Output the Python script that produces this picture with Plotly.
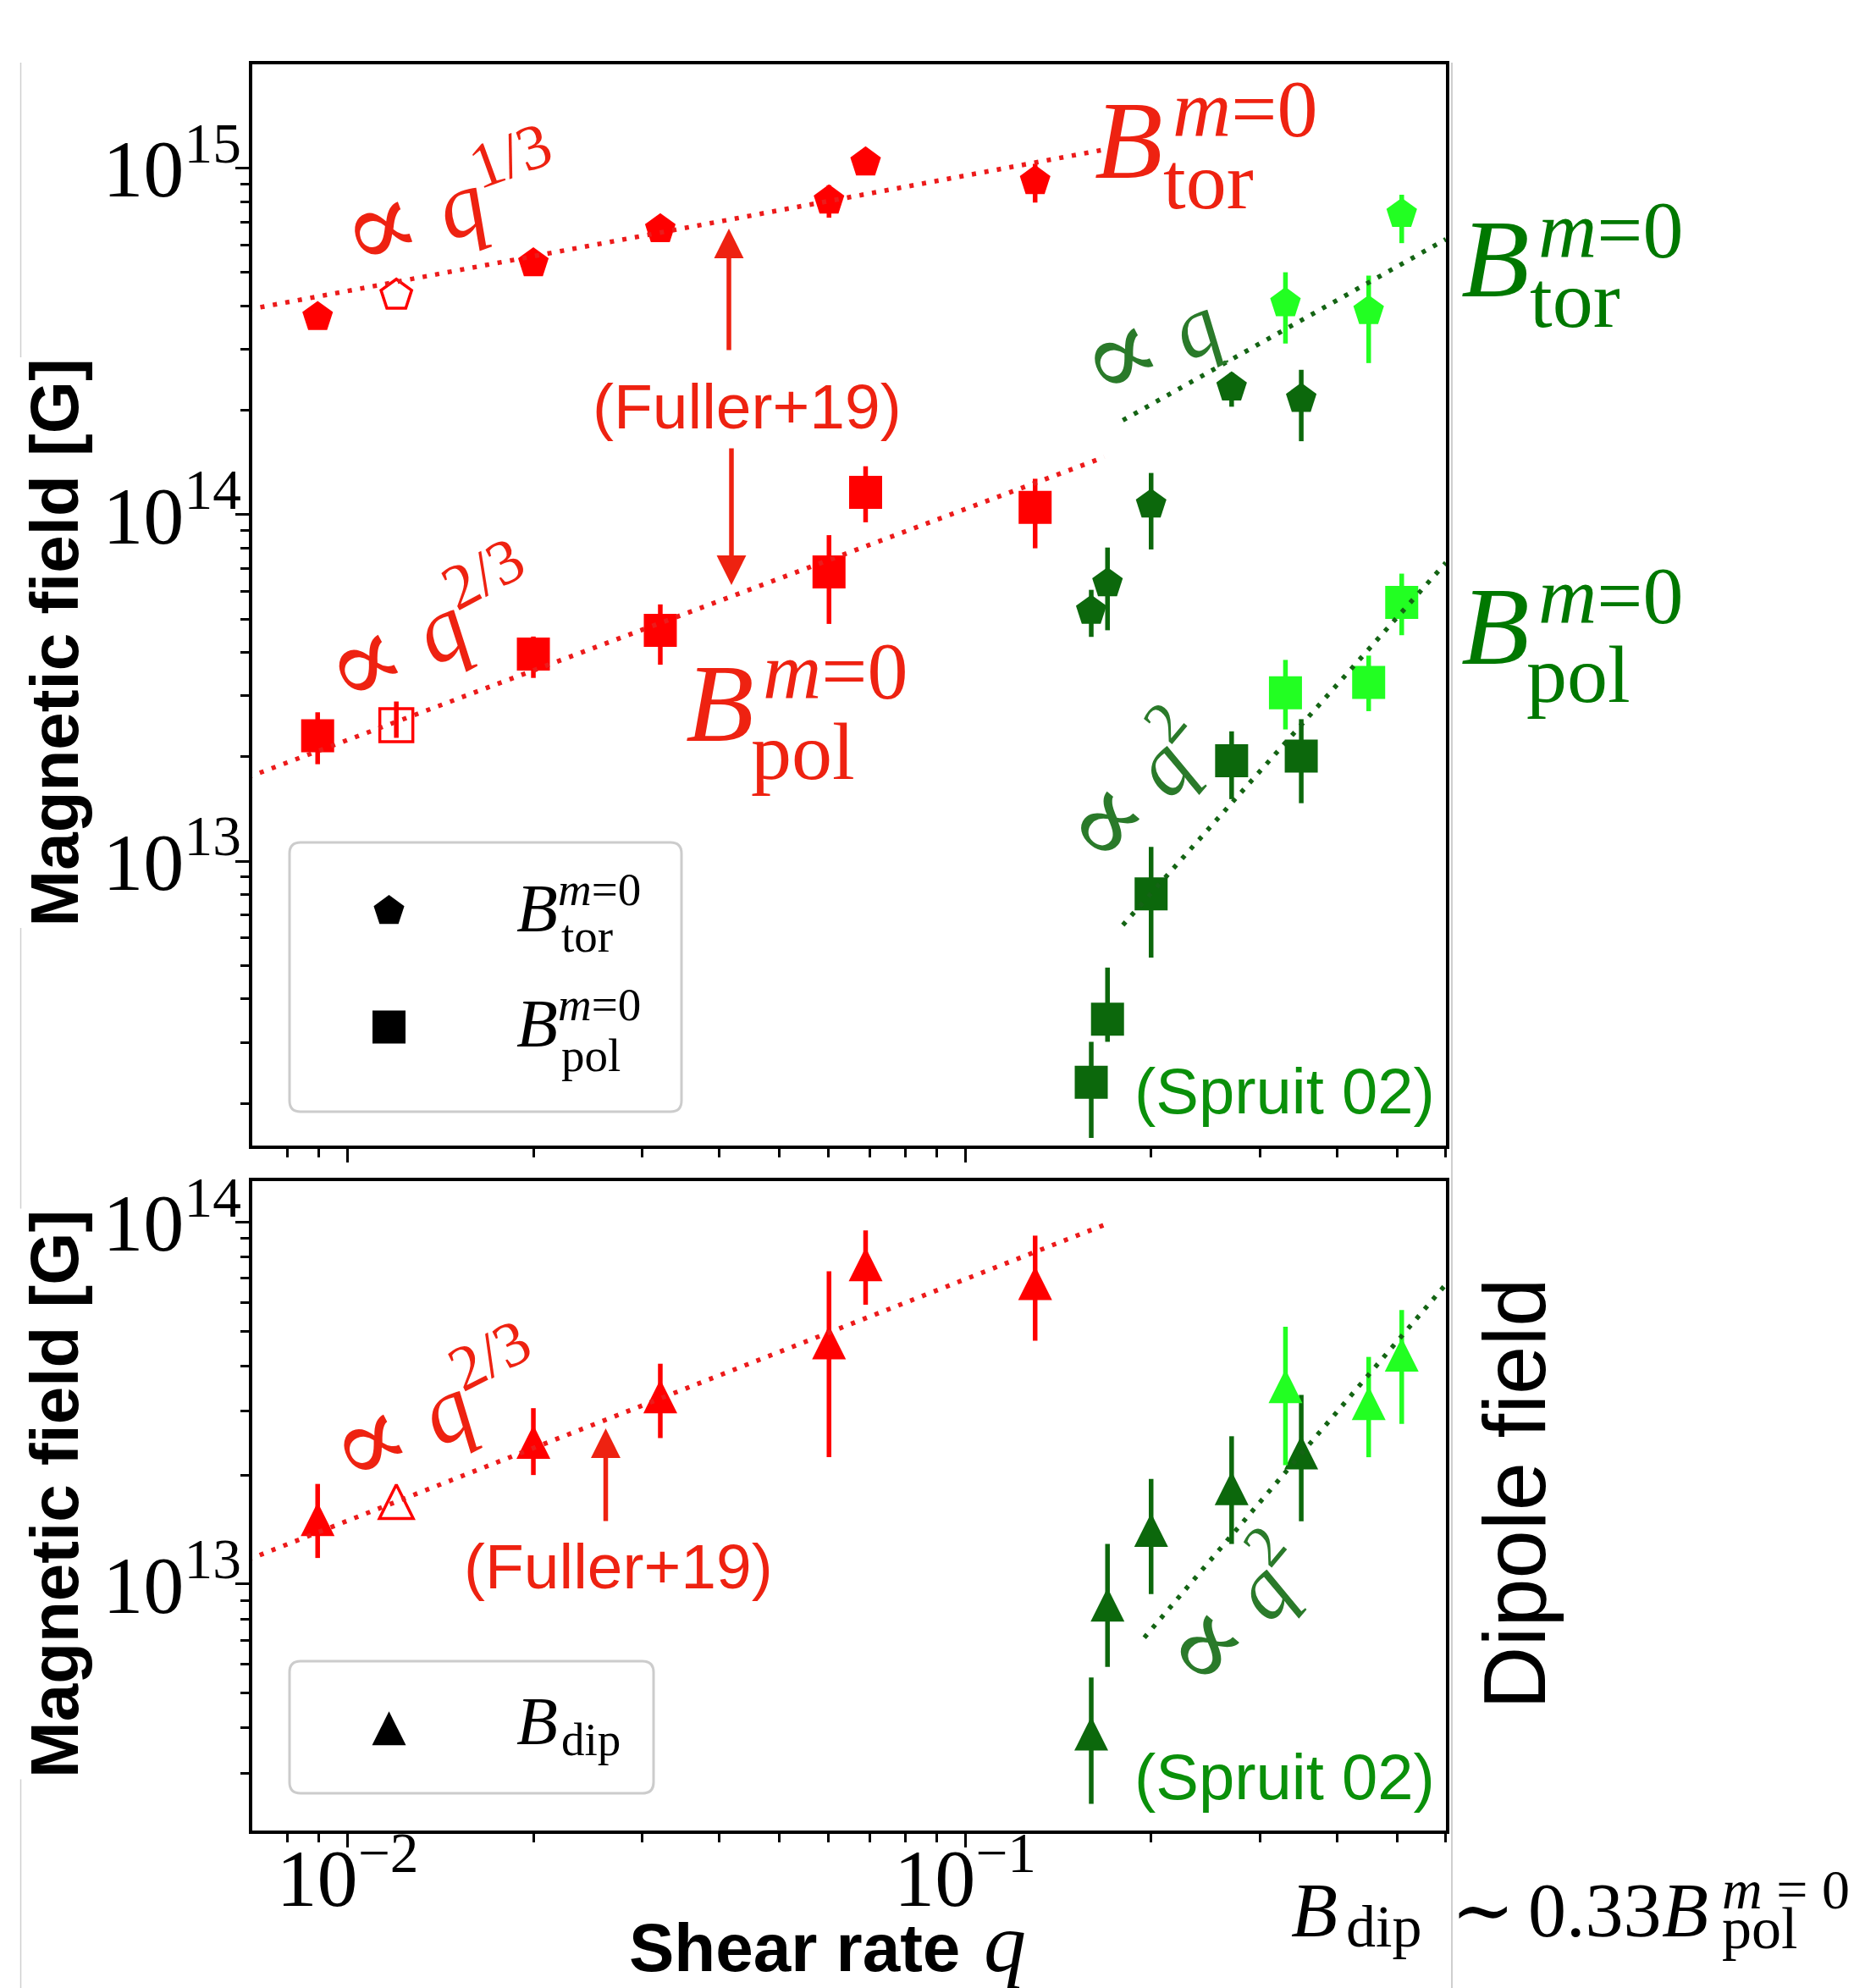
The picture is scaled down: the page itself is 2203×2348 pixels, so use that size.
import plotly.graph_objects as go

# ---------------- data ----------------
# shear rate q of each run
q_fuller = [0.00895, 0.0120, 0.0200, 0.0321, 0.0602, 0.0690, 0.1298]
hollow_fuller = [False, True, False, False, False, False, False]
q_spruit_dark = [0.160, 0.170, 0.200, 0.270, 0.350]
q_spruit_light = [0.330, 0.450, 0.509]

# toroidal field B_tor^{m=0} [G] (value, upper, lower)
btor_fuller = [3.72e14, 4.30e14, 5.32e14, 6.67e14, 8.07e14, 1.04e15, 9.19e14]
btor_fuller_hi = [3.72e14, 4.30e14, 5.32e14, 6.67e14, 8.93e14, 1.04e15, 1.03e15]
btor_fuller_lo = [3.72e14, 4.30e14, 5.32e14, 6.67e14, 7.20e14, 1.04e15, 7.96e14]
btor_dark = [5.28e13, 6.34e13, 1.07e14, 2.33e14, 2.16e14]
btor_dark_hi = [6.07e13, 8.04e13, 1.32e14, 2.57e14, 2.62e14]
btor_dark_lo = [4.44e13, 4.64e13, 7.94e13, 2.05e14, 1.63e14]
btor_light = [4.08e14, 3.87e14, 7.38e14]
btor_light_hi = [5.01e14, 4.90e14, 8.39e14]
btor_light_lo = [3.12e14, 2.74e14, 6.08e14]

# poloidal field B_pol^{m=0} [G]
bpol_fuller = [2.30e13, 2.47e13, 3.96e13, 4.64e13, 6.84e13, 1.16e14, 1.05e14]
bpol_fuller_hi = [2.69e13, 2.89e13, 4.45e13, 5.51e13, 8.73e13, 1.38e14, 1.27e14]
bpol_fuller_lo = [1.905e13, 2.27e13, 3.38e13, 3.69e13, 4.84e13, 9.51e13, 8.00e13]
bpol_dark = [2.30e12, 3.50e12, 8.05e12, 1.95e13, 2.01e13]
bpol_dark_hi = [3.01e12, 4.93e12, 1.10e13, 2.37e13, 2.57e13]
bpol_dark_lo = [1.59e12, 3.01e12, 5.27e12, 1.51e13, 1.47e13]
bpol_light = [3.06e13, 3.28e13, 5.58e13]
bpol_light_hi = [3.81e13, 3.92e13, 6.76e13]
bpol_light_lo = [2.40e13, 2.71e13, 4.49e13]

# dipole field B_dip [G]
bdip_fuller = [1.51e13, 1.69e13, 2.47e13, 3.30e13, 4.65e13, 7.64e13, 6.78e13]
bdip_fuller_hi = [1.89e13, 1.69e13, 3.06e13, 4.06e13, 7.31e13, 9.48e13, 9.17e13]
bdip_fuller_lo = [1.18e13, 1.69e13, 2.00e13, 2.53e13, 2.24e13, 5.91e13, 4.70e13]
bdip_dark = [3.86e12, 8.77e12, 1.41e13, 1.84e13, 2.31e13]
bdip_dark_hi = [5.52e12, 1.29e13, 1.95e13, 2.56e13, 3.33e13]
bdip_dark_lo = [2.47e12, 5.90e12, 9.38e12, 1.29e13, 1.49e13]
bdip_light = [3.52e13, 3.16e13, 4.30e13]
bdip_light_hi = [5.14e13, 4.24e13, 5.71e13]
bdip_light_lo = [2.13e13, 2.24e13, 2.77e13]

# power-law guide lines (end points)
guide_tor_fuller_q = [0.0069, 0.168]
guide_tor_fuller_b = [3.91e14, 1.132e15]
guide_pol_fuller_q = [0.0069, 0.168]
guide_pol_fuller_b = [1.747e13, 1.467e14]
guide_dip_fuller_q = [0.0069, 0.168]
guide_dip_fuller_b = [1.167e13, 9.82e13]
guide_tor_spruit_q = [0.18, 0.60]
guide_tor_spruit_b = [1.873e14, 6.24e14]
guide_pol_spruit_q = [0.18, 0.60]
guide_pol_spruit_b = [6.54e12, 7.27e13]
guide_dip_spruit_q = [0.195, 0.60]
guide_dip_spruit_b = [7.11e12, 6.73e13]

# ---------------- style ----------------
W, H = 2203, 2348
ML, MR, MT, MB = 298, 495, 76, 186
PW, PH = W - ML - MR, H - MT - MB
TOP_Y0, TOP_Y1 = 76.0, 1353.3      # pixel rows of the upper panel frame
BOT_Y0, BOT_Y1 = 1395.0, 2161.6    # pixel rows of the lower panel frame

RED = "#ff0000"
RED_TXT = "#ee2211"
RED_LINE = "#ec1b1b"
DGREEN = "#0c680c"
LGREEN = "#22ff22"
GREEN_LINE = "#146414"
GREEN_LBL = "#007800"
GREEN_TXT = "#0a900a"
GREEN_PROP = "#2a7a2a"

SERIF = "Liberation Serif, DejaVu Serif, serif"
SANS = "Liberation Sans, Arial, sans-serif"

S_PENT, S_SQ, S_TRI = 38, 39, 40


def px(x):
    return (x - ML) / PW


def py(y):
    return (H - MB - y) / PH


def points(q, b, hi, lo, color, symbol, size, top, hollow=None, tri=False):
    hollow = hollow or [False] * len(q)
    marker = dict(
        color=color, size=size,
        symbol=[symbol + ("-open" if h else "") for h in hollow],
        line=dict(color=color, width=[3.5 if h else 0 for h in hollow]),
    )
    if tri:
        # upward triangle centred on the point, equal width and height
        marker.update(angle=180, standoff=size / 2)
    return go.Scatter(
        x=q, y=b, mode="markers", marker=marker,
        error_y=dict(type="data", symmetric=False,
                     array=[h - v for h, v in zip(hi, b)],
                     arrayminus=[v - l for v, l in zip(b, lo)],
                     color=color, thickness=5.5, width=0),
        xaxis="x" if top else "x2", yaxis="y" if top else "y2",
        showlegend=False, hoverinfo="skip",
    )


def guide(q, b, color, top):
    return go.Scatter(
        x=q, y=b, mode="lines",
        line=dict(color=color, width=5.5, dash="5px,10px"),
        xaxis="x" if top else "x2", yaxis="y" if top else "y2",
        showlegend=False, hoverinfo="skip",
    )


fig = go.Figure()

# upper panel: B_tor and B_pol
fig.add_trace(points(q_fuller, btor_fuller, btor_fuller_hi, btor_fuller_lo, RED, "pentagon", S_PENT, True, hollow_fuller))
fig.add_trace(points(q_fuller, bpol_fuller, bpol_fuller_hi, bpol_fuller_lo, RED, "square", S_SQ, True, hollow_fuller))
fig.add_trace(points(q_spruit_dark, btor_dark, btor_dark_hi, btor_dark_lo, DGREEN, "pentagon", S_PENT, True))
fig.add_trace(points(q_spruit_light, btor_light, btor_light_hi, btor_light_lo, LGREEN, "pentagon", S_PENT, True))
fig.add_trace(points(q_spruit_dark, bpol_dark, bpol_dark_hi, bpol_dark_lo, DGREEN, "square", S_SQ, True))
fig.add_trace(points(q_spruit_light, bpol_light, bpol_light_hi, bpol_light_lo, LGREEN, "square", S_SQ, True))
fig.add_trace(guide(guide_tor_fuller_q, guide_tor_fuller_b, RED_LINE, True))
fig.add_trace(guide(guide_pol_fuller_q, guide_pol_fuller_b, RED_LINE, True))
fig.add_trace(guide(guide_tor_spruit_q, guide_tor_spruit_b, GREEN_LINE, True))
fig.add_trace(guide(guide_pol_spruit_q, guide_pol_spruit_b, GREEN_LINE, True))

# lower panel: B_dip
fig.add_trace(points(q_fuller, bdip_fuller, bdip_fuller_hi, bdip_fuller_lo, RED, "arrow-down", S_TRI, False, hollow_fuller, tri=True))
fig.add_trace(points(q_spruit_dark, bdip_dark, bdip_dark_hi, bdip_dark_lo, DGREEN, "arrow-down", S_TRI, False, tri=True))
fig.add_trace(points(q_spruit_light, bdip_light, bdip_light_hi, bdip_light_lo, LGREEN, "arrow-down", S_TRI, False, tri=True))
fig.add_trace(guide(guide_dip_fuller_q, guide_dip_fuller_b, RED_LINE, False))
fig.add_trace(guide(guide_dip_spruit_q, guide_dip_spruit_b, GREEN_LINE, False))


# legend swatches, placed in panel-fraction coordinates
def fx(x):
    return (x - ML) / PW


def fy_top(y):
    return (TOP_Y1 - y) / (TOP_Y1 - TOP_Y0)


def fy_bot(y):
    return (BOT_Y1 - y) / (BOT_Y1 - BOT_Y0)


fig.add_trace(go.Scatter(x=[fx(459.5)], y=[fy_top(1076)], mode="markers", xaxis="x3", yaxis="y3",
                         marker=dict(symbol="pentagon", size=S_PENT, color="black"),
                         cliponaxis=False, showlegend=False, hoverinfo="skip"))
fig.add_trace(go.Scatter(x=[fx(459.5)], y=[fy_top(1213)], mode="markers", xaxis="x3", yaxis="y3",
                         marker=dict(symbol="square", size=S_SQ, color="black"),
                         cliponaxis=False, showlegend=False, hoverinfo="skip"))
fig.add_trace(go.Scatter(x=[fx(459.5)], y=[fy_bot(2041)], mode="markers", xaxis="x4", yaxis="y4",
                         marker=dict(symbol="arrow-down", size=S_TRI, color="black", angle=180, standoff=S_TRI / 2),
                         cliponaxis=False, showlegend=False, hoverinfo="skip"))

# ---------------- axes ----------------
tickfont = dict(family=SERIF, size=77, color="black")
minor = dict(ticks="outside", ticklen=10, tickwidth=2.5, tickcolor="black", dtick="D1", showgrid=False)
common = dict(type="log", showline=True, linecolor="black", linewidth=3.5, mirror=True,
              ticks="outside", ticklen=16, tickwidth=3, tickcolor="black", dtick=1,
              exponentformat="power", showgrid=False, zeroline=False, minor=minor, tickfont=tickfont)
xcommon = dict(range=[-2.154, -0.2217], ticklabelstandoff=-42, **common)
ycommon = dict(ticklabelstandoff=-22, **common)

fig.update_layout(
    width=W, height=H, autosize=False,
    margin=dict(l=ML, r=MR, t=MT, b=MB),
    paper_bgcolor="white", plot_bgcolor="rgba(0,0,0,0)",
    showlegend=False,
    xaxis=dict(domain=[0, 1], anchor="y", showticklabels=False, **xcommon),
    yaxis=dict(domain=[py(TOP_Y1), 1], anchor="x", range=[12.1784, 15.300], **ycommon),
    xaxis2=dict(domain=[0, 1], anchor="y2", **xcommon),
    yaxis2=dict(domain=[0, py(BOT_Y0)], anchor="x2", range=[12.319, 14.113], **ycommon),
    xaxis3=dict(overlaying="x", range=[0, 1], visible=False),
    yaxis3=dict(overlaying="y", range=[0, 1], visible=False),
    xaxis4=dict(overlaying="x2", range=[0, 1], visible=False),
    yaxis4=dict(overlaying="y2", range=[0, 1], visible=False),
)

# ---------------- text ----------------
ann = []
METRICS = {SERIF: (0.891, 0.216), SANS: (0.905, 0.212)}


def label(x, baseline, text, size, color, family=SERIF):
    asc, desc = METRICS[family]
    yc = baseline - (asc - desc) / 2 * size
    ann.append(dict(x=px(x - 2), y=py(yc), xref="paper", yref="paper", text=text,
                    showarrow=False, xanchor="left", yanchor="middle",
                    font=dict(family=family, size=size, color=color)))


def centered(x, y, text, size, color, family=SERIF, angle=0, bg=None):
    d = dict(x=px(x), y=py(y), xref="paper", yref="paper", text=text, showarrow=False,
             xanchor="center", yanchor="middle", textangle=angle,
             font=dict(family=family, size=size, color=color))
    if bg:
        d.update(bgcolor=bg)
    ann.append(d)


def stacked(x, base, sup, sub, color, big, small, dx_sup, dy_sup, dx_sub, dy_sub):
    label(x, base, "<i>B</i>", big, color)
    if sup:
        label(x + dx_sup, base + dy_sup, sup, small, color)
    label(x + dx_sub, base + dy_sub, sub, small, color)


M0 = "<i>m</i>=0"
# large field labels
stacked(1293, 210, M0, "tor", RED_TXT, 132, 96, 92, -49, 81, 36)
stacked(810, 875, M0, "pol", RED_TXT, 132, 96, 91, -50, 77, 45)
stacked(1726, 350, M0, "tor", GREEN_LBL, 132, 96, 91, -46, 81, 36)
stacked(1726, 784, M0, "pol", GREEN_LBL, 132, 96, 91, -48, 77, 45)

# legend labels
stacked(610, 1100, M0, "tor", "black", 80, 55, 49, -31, 53, 24)
stacked(610, 1236, M0, "pol", "black", 80, 55, 49, -31, 53, 29)
stacked(610, 2060, None, "dip", "black", 80, 55, 0, 0, 53, 13)

# scaling laws
PROP = "<span style='font-size:132px'>∝</span> "
centered(531, 237, PROP + "<i>q</i><sup>1/3</sup>", 108, RED_TXT, angle=-20)
centered(507, 740, PROP + "<i>q</i><sup>2/3</sup>", 108, RED_TXT, angle=-28)
centered(514, 1663, PROP + "<i>q</i><sup>2/3</sup>", 108, RED_TXT, angle=-27)
centered(1355, 402, PROP + "<i>q</i>", 100, GREEN_PROP, angle=-27)
centered(1339, 930, PROP + "<i>q</i><sup>2</sup>", 100, GREEN_PROP, angle=-50)
centered(1456, 1902, PROP + "<i>q</i><sup>2</sup>", 100, GREEN_PROP, angle=-50)

# references
centered(882, 480, "(Fuller+19)", 75, RED_TXT, family=SANS)
centered(730, 1850, "(Fuller+19)", 75, RED_TXT, family=SANS)
centered(1517, 1288, "(Spruit 02)", 76, GREEN_TXT, family=SANS)
centered(1517, 2098, "(Spruit 02)", 76, GREEN_TXT, family=SANS)

# arrows pointing from the reference label to the guide lines
for tipx, tipy, tail in [(861, 270, 145), (864, 691, -163), (715.5, 1687, 111)]:
    ann.append(dict(x=px(tipx), y=py(tipy), xref="paper", yref="paper", text="",
                    showarrow=True, ax=0, ay=tail, arrowhead=2, arrowsize=1.27,
                    arrowwidth=5.5, arrowcolor=RED_TXT))

# axis titles
centered(64, 759.5, "<b>Magnetic field [G]</b>", 80, "black", family=SANS, angle=-90, bg="white")
centered(64, 1765, "<b>Magnetic field [G]</b>", 80, "black", family=SANS, angle=-90, bg="white")
label(743, 2328, "<b>Shear rate</b>", 80, "black", family=SANS)
label(1162, 2328, "<i>q</i>", 100, "black")
centered(1789, 1764, "Dipole field", 103, "black", family=SANS, angle=-90)

# B_dip ~ 0.33 B_pol^{m=0}
label(1525, 2287, "<i>B</i>", 90, "black")
label(1590, 2299, "dip", 70, "black")
label(1714, 2287, "∼", 90, "black")
label(1805, 2287, "0.33", 90, "black")
label(1963, 2287, "<i>B</i>", 90, "black")
label(2034, 2254, "<i>m</i> = 0", 66, "black")
label(2034, 2301, "pol", 70, "black")

fig.update_layout(annotations=ann)


# ---------------- frames ----------------
def rounded_box(x0, y0, x1, y1, r):
    X, Y = px, py
    path = (f"M {X(x0 + r)},{Y(y0)} L {X(x1 - r)},{Y(y0)} Q {X(x1)},{Y(y0)} {X(x1)},{Y(y0 + r)} "
            f"L {X(x1)},{Y(y1 - r)} Q {X(x1)},{Y(y1)} {X(x1 - r)},{Y(y1)} "
            f"L {X(x0 + r)},{Y(y1)} Q {X(x0)},{Y(y1)} {X(x0)},{Y(y1 - r)} "
            f"L {X(x0)},{Y(y0 + r)} Q {X(x0)},{Y(y0)} {X(x0 + r)},{Y(y0)} Z")
    return dict(type="path", path=path, xref="paper", yref="paper",
                line=dict(color="#cccccc", width=3), fillcolor="white", layer="below")


shapes = [
    rounded_box(342, 995, 805, 1313, 13),
    rounded_box(342, 1962, 772, 2118, 13),
    dict(type="line", xref="paper", yref="paper", x0=px(24.5), x1=px(24.5), y0=py(74), y1=py(H),
         line=dict(color="#cfcfcf", width=1.5), layer="below"),
    dict(type="line", xref="paper", yref="paper", x0=px(1715), x1=px(1715), y0=py(74), y1=py(H),
         line=dict(color="#cfcfcf", width=2), layer="below"),
]
fig.update_layout(shapes=shapes)

fig.write_html("out.html")
